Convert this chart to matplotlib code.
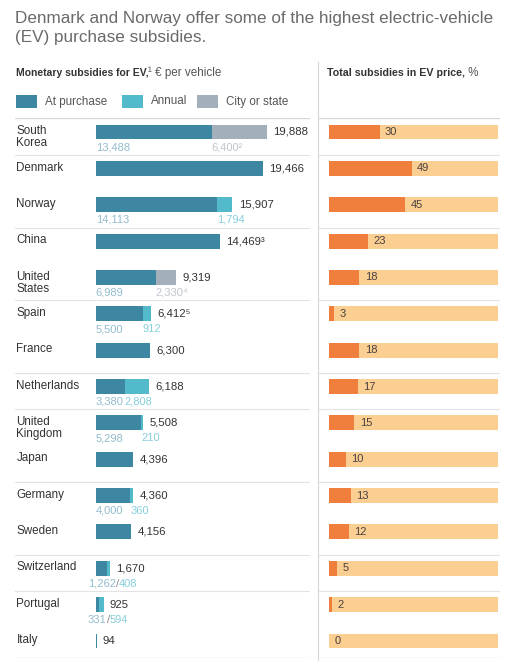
import numpy as np
import matplotlib
matplotlib.use("Agg")
import matplotlib.pyplot as plt
from matplotlib.patches import Rectangle
from matplotlib.lines import Line2D

plt.rcParams["font.family"] = ["Liberation Sans", "DejaVu Sans"]

# ----- data -----
countries = ["South\nKorea", "Denmark", "Norway", "China", "United\nStates", "Spain",
             "France", "Netherlands", "United\nKingdom", "Japan", "Germany", "Sweden",
             "Switzerland", "Portugal", "Italy"]
at_purchase = [13488, 19466, 14113, 14469, 6989, 5500, 6300, 3380, 5298, 4396, 4000, 4156, 1262, 331, 94]
annual = [0, 0, 1794, 0, 0, 912, 0, 2808, 210, 0, 360, 0, 408, 594, 0]
city_state = [6400, 0, 0, 0, 2330, 0, 0, 0, 0, 0, 0, 0, 0, 0, 0]
total_notes = ["", "", "", "³", "", "⁵", "", "", "", "", "", "", "", "", ""]
city_notes = ["²", "", "", "", "⁴", "", "", "", "", "", "", "", "", "", ""]
combined_sublabel = ["Switzerland", "Portugal"]
subsidy_share = [30, 49, 45, 23, 18, 3, 18, 17, 15, 10, 13, 12, 5, 2, 0]
separator_after = [0, 2, 4, 6, 7, 9, 11, 12]

# colours
c_purchase = "#3d87a2"
c_annual = "#52bacb"
c_city = "#a3afba"
c_purchase_txt = "#93bccd"
c_annual_txt = "#86cfdb"
c_city_txt = "#bfc6cd"
c_dark_org = "#f07f3d"
c_light_org = "#fbcf91"
c_text = "#333333"
c_line = "#e3e3e3"

W, H = 516, 669
fig = plt.figure(figsize=(W / 100, H / 100), dpi=100)


def fx(px):
    return px / W


def fy(py):
    return 1 - py / H


purchase = np.array(at_purchase)
ann = np.array(annual)
city = np.array(city_state)
totals = purchase + ann + city
rows = np.arange(len(countries))

top_px, bot_px = 118, 658
ax = fig.add_axes([fx(15), fy(bot_px), fx(310) - fx(15), fy(top_px) - fy(bot_px)])
ax2 = fig.add_axes([fx(318), fy(bot_px), fx(500) - fx(318), fy(top_px) - fy(bot_px)])

ylim = (14.467, -0.385)
ax.set_xlim(-9390, 24936)
ax2.set_xlim(-6.5, 101.2)
for a in (ax, ax2):
    a.set_ylim(*ylim)
    a.axis("off")
    for r in separator_after:
        a.axhline(r + 0.63, color=c_line, lw=0.8)
    a.axhline(ylim[0], color="#d6d6d6", lw=0.9)
    a.axhline(ylim[1], color="#d6d6d6", lw=0.9)

# ----- left: euro subsidies -----
bh = 0.41
ax.barh(rows, purchase, height=bh, color=c_purchase, lw=0)
ax.barh(rows, ann, left=purchase, height=bh, color=c_annual, lw=0)
ax.barh(rows, city, left=purchase + ann, height=bh, color=c_city, lw=0)

for i, name in enumerate(countries):
    ax.annotate(name, xy=(0, i), xycoords=ax.get_yaxis_transform(), xytext=(1, 4.9),
                textcoords="offset points", ha="left", va="top", fontsize=8.4,
                color=c_text, linespacing=1.0)
    ax.annotate(f"{totals[i]:,}{total_notes[i]}", xy=(totals[i], i), xytext=(4.5, 0),
                textcoords="offset points", ha="left", va="center", fontsize=8.2, color=c_text)

    n_parts = int(purchase[i] > 0) + int(ann[i] > 0) + int(city[i] > 0)
    if n_parts < 2:
        continue
    second = ann[i] if ann[i] > 0 else city[i]
    second_col = c_annual_txt if ann[i] > 0 else c_city_txt
    second_note = city_notes[i] if city[i] > 0 else ""
    if name in combined_sublabel:
        t1 = ax.annotate(f"{purchase[i]:,}", xy=(0, i), xytext=(-5.5, -11),
                         textcoords="offset points", ha="left", va="center",
                         fontsize=8, color=c_purchase_txt)
        t2 = ax.annotate("/", xy=(1, 0), xycoords=t1, ha="left", va="bottom",
                         fontsize=8, color="#8a8a8a")
        ax.annotate(f"{second:,}", xy=(1, 0), xycoords=t2, ha="left", va="bottom",
                    fontsize=8, color=second_col)
    else:
        ax.annotate(f"{purchase[i]:,}", xy=(0, i), xytext=(0, -11),
                    textcoords="offset points", ha="left", va="center",
                    fontsize=8, color=c_purchase_txt)
        ax.annotate(f"{second:,}{second_note}", xy=(purchase[i], i), xytext=(0, -11),
                    textcoords="offset points", ha="left", va="center",
                    fontsize=8, color=second_col)

# ----- right: share of EV price -----
ax2.barh(rows, [100] * len(rows), height=bh, color=c_light_org, lw=0)
ax2.barh(rows, subsidy_share, height=bh, color=c_dark_org, lw=0)
for i, v in enumerate(subsidy_share):
    ax2.annotate(str(v), xy=(v, i), xytext=(3.8, 0), textcoords="offset points",
                 ha="left", va="center", fontsize=8, color="#4a4040")

# ----- title, headers, legend -----
fig.text(fx(15), fy(11), "Denmark and Norway offer some of the highest electric-vehicle\n"
         "(EV) purchase subsidies.", ha="left", va="top", fontsize=12.3,
         color="#6a6a6a", linespacing=1.3)

head_y = fy(76)
h1 = fig.text(fx(16), head_y, "Monetary subsidies for EV,", ha="left", va="baseline",
              fontsize=7.5, weight="bold", color="#333333")
ax.annotate("¹ € per vehicle", xy=(1, head_y), xycoords=(h1, "figure fraction"),
            ha="left", va="baseline", fontsize=8.4, color="#555555", annotation_clip=False)
h2 = fig.text(fx(327), head_y, "Total subsidies in EV price,", ha="left", va="baseline",
              fontsize=7.7, weight="bold", color="#333333")
ax.annotate(" %", xy=(1, head_y), xycoords=(h2, "figure fraction"),
            ha="left", va="baseline", fontsize=8.4, color="#555555", annotation_clip=False)

legend_items = [("At purchase", c_purchase, 16), ("Annual", c_annual, 122),
                ("City or state", c_city, 197)]
for label, col, x0 in legend_items:
    fig.add_artist(Rectangle((fx(x0), fy(108)), 21 / W, 13 / H, color=col,
                             transform=fig.transFigure, lw=0))
    fig.text(fx(x0 + 29), fy(101.5), label, ha="left", va="center", fontsize=8.4,
             color="#555555")

fig.add_artist(Line2D([fx(318), fx(318)], [fy(62), fy(660)], color="#d6d6d6", lw=0.8,
                      transform=fig.transFigure))

fig.savefig("out.png", dpi=100, facecolor="white")
